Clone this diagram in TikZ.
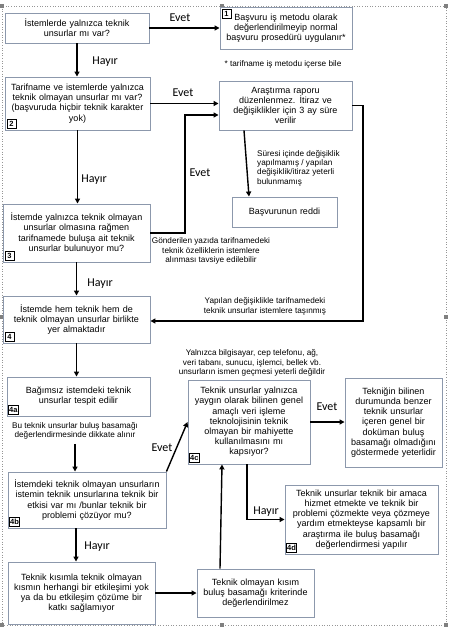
\documentclass[tikz,border=0pt]{standalone}
\usepackage{fontspec}
\setmainfont{Liberation Sans}
\newfontfamily\calibrifont{Carlito}
\usetikzlibrary{arrows.meta}

\definecolor{boxgray}{RGB}{140,152,172}
\definecolor{framegray}{RGB}{150,150,150}
\definecolor{handlegray}{RGB}{128,128,128}

\newcommand{\boxtext}{\fontsize{9}{10.2}\selectfont}
\newcommand{\notetext}{\fontsize{8.2}{9.4}\selectfont}

\tikzset{
        flowbox/.style = {draw = boxgray, line width = 0.9pt, align = center, font = {\boxtext}, inner sep = 2pt},
        tagbox/.style = {draw = black, line width = 0.9pt, font = {\fontsize{7.5}{8}\selectfont\bfseries}, inner sep = 0.7pt, minimum width = 9pt, minimum height = 9pt, anchor = south west},
        answer/.style = {font = {\calibrifont\fontsize{12}{14}\selectfont}, black},
        remark/.style = {font = {\notetext}, align = center, black, inner sep = 0pt},
        flowarrow/.style = {-{Triangle[length = 5pt, width = 5pt]}, line width = 1.4pt, black},
}

\begin{document}
\begin{tikzpicture}[x = 1pt, y = -1pt]
        \useasboundingbox (0, 0) rectangle (449, 629);
        \draw[framegray, dotted, line width = 0.6pt] (2, 6) rectangle (446, 625);
        \foreach \hx/\hy in {2/6, 222/6, 446/6, 2/317, 446/317, 2/625, 222/625, 446/625}
                \fill[handlegray] (\hx, \hy) ++(-2, -2) rectangle ++(4, 4);

        \node[flowbox, text width = 140pt, minimum height = 30pt] (q1) at (77, 28) {İstemlerde yalnızca teknik\\unsurlar mı var?};
        \node[flowbox, text width = 128pt, minimum height = 42pt] (r1) at (286, 28) {Başvuru iş metodu olarak\\değerlendirilmeyip normal\\başvuru prosedürü uygulanır*};
        \node[tagbox, anchor = north west] (t1) at ([xshift = 2pt, yshift = -2pt]r1.north west) {1};
        \node[remark] (n1) at (283, 64) {* tarifname iş metodu içerse bile};

        \node[flowbox, text width = 141pt, minimum height = 53pt] (q2) at (77.5, 103.5) {Tarifname ve istemlerde yalnızca\\teknik olmayan unsurlar mı var?\\(başvuruda hiçbir teknik karakter\\yok)};
        \node[tagbox] (t2) at ([xshift = 2pt, yshift = 2pt]q2.south west) {2};
        \node[flowbox, text width = 129pt, minimum height = 49pt] (r2) at (285.5, 105.5) {Araştırma raporu\\düzenlenmez. İtiraz ve\\değişiklikler için 3 ay süre\\verilir};

        \node[remark, align = left, anchor = west] (n2) at (257, 168) {Süresi içinde değişiklik\\yapılmamış / yapılan\\değişiklik/itiraz yeterli\\bulunmamış};
        \node[flowbox, text width = 101pt, minimum height = 30pt] (red) at (284.5, 212) {Başvurunun reddi};

        \node[flowbox, text width = 143pt, minimum height = 58pt] (q3) at (76.5, 233) {İstemde yalnızca teknik olmayan\\unsurlar olmasına rağmen\\tarifnamede buluşa ait teknik\\unsurlar bulunuyor mu?};
        \node[tagbox] (t3) at ([xshift = 2pt, yshift = 2pt]q3.south west) {3};
        \node[remark] (n3) at (211, 251) {Gönderilen yazıda tarifnamedeki\\teknik özelliklerin istemlere\\alınması tavsiye edilebilir};

        \node[flowbox, text width = 143pt, minimum height = 47pt] (q4) at (76.5, 319.5) {İstemde hem teknik hem de\\teknik olmayan unsurlar birlikte\\yer almaktadır};
        \node[tagbox] (t4) at ([xshift = 2pt, yshift = 2pt]q4.south west) {4};
        \node[remark] (n4) at (265, 306.5) {Yapılan değişiklikle tarifnamedeki\\teknik unsurlar istemlere taşınmış};

        \node[flowbox, text width = 139pt, minimum height = 39pt] (q4a) at (78.5, 396.5) {Bağımsız istemdeki teknik\\unsurlar tespit edilir};
        \node[tagbox] (t4a) at ([xshift = 1.5pt, yshift = 2pt]q4a.south west) {4a};
        \node[remark] (n4a) at (75, 431) {Bu teknik unsurlar buluş basamağı\\değerlendirmesinde dikkate alınır};

        \node[flowbox, text width = 154pt, minimum height = 56pt] (q4b) at (87, 500) {İstemdeki teknik olmayan unsurların\\istemin teknik unsurlarına teknik bir\\etkisi var mı /bunlar teknik bir\\problemi çözüyor mu?};
        \node[tagbox] (t4b) at ([xshift = 1.5pt, yshift = 2pt]q4b.south west) {4b};

        \node[remark] (n4c) at (252, 363) {Yalnızca bilgisayar, cep telefonu, ağ,\\veri tabanı, sunucu, işlemci, bellek vb.\\unsurların ismen geçmesi yeterli değildir};
        \node[flowbox, text width = 118pt, minimum height = 84pt] (q4c) at (249, 422) {Teknik unsurlar yalnızca\\yaygın olarak bilinen genel\\amaçlı veri işleme\\teknolojisinin teknik\\olmayan bir mahiyette\\kullanılmasını mı\\kapsıyor?};
        \node[tagbox] (t4c) at ([xshift = 1.5pt, yshift = 2pt]q4c.south west) {4c};
        \node[flowbox, text width = 93pt, minimum height = 89pt] (q4e) at (393.5, 422.5) {Tekniğin bilinen\\durumunda benzer\\teknik unsurlar\\içeren genel bir\\doküman buluş\\basamağı olmadığını\\göstermede yeterlidir};

        \node[flowbox, text width = 149pt, minimum height = 69pt] (q4d) at (361.5, 519.5) {Teknik unsurlar teknik bir amaca\\hizmet etmekte ve teknik bir\\problemi çözmekte veya çözmeye\\yardım etmekteyse kapsamlı bir\\araştırma ile buluş basamağı\\değerlendirmesi yapılır};
        \node[tagbox] (t4d) at ([xshift = 1.5pt, yshift = 2pt]q4d.south west) {4d};

        \node[flowbox, text width = 143pt, minimum height = 62pt] (q5) at (81.5, 593) {Teknik kısımla teknik olmayan\\kısmın herhangi bir etkileşimi yok\\ya da bu etkileşim çözüme bir\\katkı sağlamıyor};
        \node[flowbox, text width = 113pt, minimum height = 48pt] (q6) at (255.5, 593) {Teknik olmayan kısım\\buluş basamağı kriterinde\\değerlendirilmez};

        \coordinate (c3) at (185, 115);
        \coordinate (c2) at (363, 321);

        \draw[flowarrow] (q1.east) -- (q1.east -| r1.west);
        \draw[flowarrow] (q1.south) -- (q1.south |- q2.north);
        \draw[flowarrow] (q2.east) -- (q2.east -| r2.west);
        \draw[flowarrow] (q3.east) -| (c3) -- (c3 -| r2.west);
        \draw[flowarrow] (r2.east) -| (c2) -- (c2 -| q4.east);
        \draw[flowarrow] ([xshift = -41.5pt]r2.south) -- ([xshift = -35.5pt]red.north);
        \draw[flowarrow] (q2.south) -- (q2.south |- q3.north);
        \draw[flowarrow] (q3.south) -- (q4.north);
        \draw[flowarrow] (q4.south) -- (q4.south |- q4a.north);
        \draw[flowarrow] ([yshift = -4pt]n4a.south) -- (n4a.south |- q4b.north);
        \draw[flowarrow] (q4b.north east) -- (q4c.west);
        \draw[flowarrow] (q4c.east) -- (q4c.east -| q4e.west);
        \draw[flowarrow] ([xshift = -11pt]q4b.south) -- ([xshift = -11pt]q4b.south |- q5.north);
        \draw[flowarrow] (q5.east) -- (q5.east -| q6.west);
        \draw[flowarrow] ([xshift = -35.5pt]q6.north) -- ([xshift = -27pt]q4c.south);
        \draw[flowarrow] ([xshift = -2pt]q4c.south) |- (q4d.west);

        \node[answer] (a1) at (180, 18) {Evet};
        \node[answer] (a2) at (105, 62) {Hayır};
        \node[answer] (a3) at (183, 93) {Evet};
        \node[answer] (a4) at (200, 173) {Evet};
        \node[answer] (a5) at (94, 180) {Hayır};
        \node[answer] (a6) at (100, 284) {Hayır};
        \node[answer] (a7) at (162, 448) {Evet};
        \node[answer] (a8) at (327, 407) {Evet};
        \node[answer] (a9) at (97, 547) {Hayır};
        \node[answer] (a10) at (266, 512) {Hayır};
\end{tikzpicture}
\end{document}
